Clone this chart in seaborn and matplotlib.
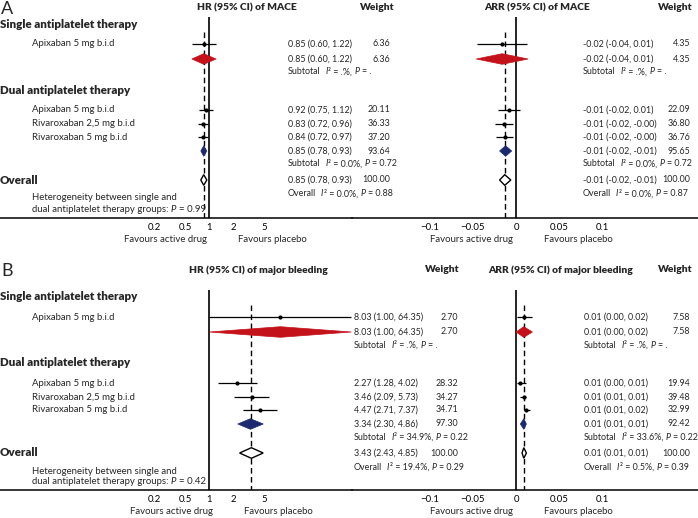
import matplotlib
matplotlib.use('Agg')
import matplotlib.pyplot as plt
from matplotlib.ticker import NullLocator, NullFormatter
import seaborn as sns

# ---- values ----
GROUP_NAMES = ['Single antiplatelet therapy', 'Dual antiplatelet therapy']
STUDY_NAMES = ['Apixaban 5 mg b.i.d', 'Apixaban 5 mg b.i.d',
               'Rivaroxaban 2,5 mg b.i.d', 'Rivaroxaban 5 mg b.i.d']
HET_P = ['0.99', '0.42']

# panel A, MACE: study rows (single, dual x3) and pooled rows (single sub, dual sub, overall)
mace_hr_est = [0.85, 0.92, 0.83, 0.84]
mace_hr_lo = [0.60, 0.75, 0.72, 0.72]
mace_hr_hi = [1.22, 1.12, 0.96, 0.97]
mace_hr_pool_est = [0.85, 0.85, 0.85]
mace_hr_pool_lo = [0.60, 0.78, 0.78]
mace_hr_pool_hi = [1.22, 0.93, 0.93]
mace_hr_txt = ['0.85 (0.60, 1.22)', '0.92 (0.75, 1.12)', '0.83 (0.72, 0.96)', '0.84 (0.72, 0.97)']
mace_hr_pool_txt = ['0.85 (0.60, 1.22)', '0.85 (0.78, 0.93)', '0.85 (0.78, 0.93)']
mace_hr_wt = ['6.36', '20.11', '36.33', '37.20']
mace_hr_pool_wt = ['6.36', '93.64', '100.00']
mace_hr_i2 = ['.%', '0.0%', '0.0%']
mace_hr_p = ['.', '0.72', '0.88']

mace_arr_est = [-0.016, -0.008, -0.014, -0.013]
mace_arr_lo = [-0.045, -0.021, -0.024, -0.023]
mace_arr_hi = [0.013, 0.005, -0.003, -0.004]
mace_arr_pool_est = [-0.016, -0.012, -0.013]
mace_arr_pool_lo = [-0.046, -0.019, -0.019]
mace_arr_pool_hi = [0.014, -0.005, -0.006]
mace_arr_txt = ['-0.02 (-0.04, 0.01)', '-0.01 (-0.02, 0.01)', '-0.01 (-0.02, -0.00)', '-0.01 (-0.02, -0.00)']
mace_arr_pool_txt = ['-0.02 (-0.04, 0.01)', '-0.01 (-0.02, -0.01)', '-0.01 (-0.02, -0.01)']
mace_arr_wt = ['4.35', '22.09', '36.80', '36.76']
mace_arr_pool_wt = ['4.35', '95.65', '100.00']
mace_arr_i2 = ['.%', '0.0%', '0.0%']
mace_arr_p = ['.', '0.72', '0.87']

# panel B, major bleeding
bleed_hr_est = [8.03, 2.27, 3.46, 4.47]
bleed_hr_lo = [1.00, 1.28, 2.09, 2.71]
bleed_hr_hi = [64.35, 4.02, 5.73, 7.37]
bleed_hr_pool_est = [8.03, 3.34, 3.43]
bleed_hr_pool_lo = [1.00, 2.30, 2.43]
bleed_hr_pool_hi = [64.35, 4.86, 4.85]
bleed_hr_txt = ['8.03 (1.00, 64.35)', '2.27 (1.28, 4.02)', '3.46 (2.09, 5.73)', '4.47 (2.71, 7.37)']
bleed_hr_pool_txt = ['8.03 (1.00, 64.35)', '3.34 (2.30, 4.86)', '3.43 (2.43, 4.85)']
bleed_hr_wt = ['2.70', '28.32', '34.27', '34.71']
bleed_hr_pool_wt = ['2.70', '97.30', '100.00']
bleed_hr_i2 = ['.%', '34.9%', '19.4%']
bleed_hr_p = ['.', '0.22', '0.29']

bleed_arr_est = [0.009, 0.005, 0.009, 0.012]
bleed_arr_lo = [0.001, 0.001, 0.005, 0.009]
bleed_arr_hi = [0.018, 0.012, 0.012, 0.016]
bleed_arr_pool_est = [0.009, 0.009, 0.009]
bleed_arr_pool_lo = [0.000, 0.005, 0.007]
bleed_arr_pool_hi = [0.019, 0.012, 0.012]
bleed_arr_txt = ['0.01 (0.00, 0.02)', '0.01 (0.00, 0.01)', '0.01 (0.01, 0.01)', '0.01 (0.01, 0.02)']
bleed_arr_pool_txt = ['0.01 (0.00, 0.02)', '0.01 (0.01, 0.01)', '0.01 (0.01, 0.01)']
bleed_arr_wt = ['7.58', '19.94', '39.48', '32.99']
bleed_arr_pool_wt = ['7.58', '92.42', '100.00']
bleed_arr_i2 = ['.%', '33.6%', '0.5%']
bleed_arr_p = ['.', '0.22', '0.39']

HR_TICKS = [0.2, 0.5, 1, 2, 5]
HR_TICKLABELS = ['0.2', '0.5', '1', '2', '5']
ARR_TICKS = [-0.1, -0.05, 0, 0.05, 0.1]
ARR_TICKLABELS = ['\u22120.1', '\u22120.05', '0', '0.05', '0.1']

# ---- layout (pixels from top-left, figure is 698 x 518) ----
W, H = 698, 518
STUDY_Y = [44, 110, 124, 137]
POOL_Y = [59, 151, 180]
HETROW_Y = [72, 164, 194]
GROUP_Y = [24, 90]
POOL_COLORS = ['#C4121A', '#1B2A6E', 'white']

sns.set_theme(style='white')
plt.rcParams['font.family'] = ['Lato', 'DejaVu Sans']

FS = 6.9      # labels
FN = 6.4      # numeric columns
FH = 7.4      # bold headers
fig = plt.figure(figsize=(W / 100, H / 100), dpi=100)
renderer = fig.canvas.get_renderer()


def ftext(x, y, s, **kw):
    kw.setdefault('fontsize', FS)
    kw.setdefault('va', 'center')
    return fig.text(x / W, 1 - y / H, s, **kw)


def rich(x, y, parts, fs):
    # parts: (text, style, gap in px before it); pieces are chained by their extents
    for s, st, gap in parts:
        t = ftext(x + gap, y, s, fontsize=fs, style=st)
        x = t.get_window_extent(renderer).x1


def stat_parts(label, i2, p):
    return [(label, 'normal', 0), ('I', 'italic', 4.5), ('\u00b2 = ' + i2 + ',', 'normal', 0.5),
            ('P', 'italic', 2.5), ('= ' + p, 'normal', 2.5)]


def add_ax(x0, y0, x1, y1):
    ax = fig.add_axes([x0 / W, 1 - y1 / H, (x1 - x0) / W, (y1 - y0) / H])
    ax.set_facecolor('none')
    ax.set_ylim(y1, y0)
    for side in ['top', 'left', 'right']:
        ax.spines[side].set_visible(False)
    ax.spines['bottom'].set_linewidth(1.1)
    ax.spines['bottom'].set_color('black')
    ax.set_yticks([])
    ax.tick_params(axis='x', length=0, pad=3.5, labelsize=FS, colors='black')
    return ax


def forest(ax, off, axis_y, null, est, lo, hi, pest, plo, phi):
    ax.vlines(null, 17 + off, axis_y, color='black', lw=1.2)
    ax.vlines(pest[-1], 32 + off, axis_y, color='black', lw=1.0, linestyles=(0, (4, 2.5)))
    ys = [y + off for y in STUDY_Y]
    ax.hlines(ys, lo, hi, color='black', lw=0.9)
    sns.scatterplot(x=est, y=ys, ax=ax, color='black', s=9, marker='o',
                    edgecolor='black', linewidth=0, legend=False, zorder=4)
    h = 5.3
    for e, l, u, y, c in zip(pest, plo, phi, POOL_Y, POOL_COLORS):
        y = y + off
        ec = 'black' if c == 'white' else c
        ax.fill([l, e, u, e], [y, y - h, y, y + h], facecolor=c, edgecolor=ec,
                lw=1.0 if c == 'white' else 0.5, zorder=3)


def columns(off, x_est, x_wt, txt, wt, ptxt, pwt, i2, p):
    for y, t, w in zip(STUDY_Y + POOL_Y, txt + ptxt, wt + pwt):
        ftext(x_est, y + off, t, fontsize=FN)
        ftext(x_wt, y + off, w, ha='right', fontsize=FN)
    for k, y in enumerate(HETROW_Y):
        lab = 'Overall' if k == 2 else 'Subtotal'
        rich(x_est, y + off, stat_parts(lab, i2[k], p[k]), FN)


def panel(off, letter, head_y, axis_y, titles, hr_title_x, wt1_x, arr_title_x,
          hr, arr, hr_cols, arr_cols, het_p, fav_hr_x):
    ftext(1, head_y + 1, letter, fontsize=13)
    ftext(hr_title_x, head_y, titles[0], ha='center', fontweight='heavy', fontsize=FH)
    ftext(wt1_x, head_y, 'Weight', ha='right', fontweight='heavy', fontsize=FH)
    ftext(arr_title_x, head_y, titles[1], ha='center', fontweight='heavy', fontsize=FH)
    ftext(693, head_y, 'Weight', ha='right', fontweight='heavy', fontsize=FH)
    for name, y in zip(GROUP_NAMES, GROUP_Y):
        ftext(0, y + off, name, fontweight='heavy', fontsize=8.3)
    ftext(0, POOL_Y[2] + off, 'Overall', fontweight='heavy', fontsize=8.3)
    for name, y in zip(STUDY_NAMES, STUDY_Y):
        ftext(32, y + off, name)
    ftext(32, 198 + off, 'Heterogeneity between single and')
    rich(32, 209 + off, [('dual antiplatelet therapy groups:', 'normal', 0), ('P', 'italic', 2.5),
                         ('= ' + het_p, 'normal', 2.5)], FS)

    ax_hr = add_ax(0, head_y + 4, 352, axis_y)
    ax_hr.set_xscale('log')
    ax_hr.set_xlim(0.00217, 65.5)
    forest(ax_hr, off, axis_y, 1, *hr)
    ax_hr.xaxis.set_minor_locator(NullLocator())
    ax_hr.xaxis.set_minor_formatter(NullFormatter())
    ax_hr.set_xticks(HR_TICKS)
    ax_hr.set_xticklabels(HR_TICKLABELS)

    ax_arr = add_ax(352, head_y + 4, W, axis_y)
    ax_arr.set_xlim(-0.1896, 0.2104)
    forest(ax_arr, off, axis_y, 0, *arr)
    ax_arr.set_xticks(ARR_TICKS)
    ax_arr.set_xticklabels(ARR_TICKLABELS)

    columns(off, *hr_cols)
    columns(off, *arr_cols)

    ftext(fav_hr_x[0], axis_y + 22, 'Favours active drug', ha='center')
    ftext(fav_hr_x[1], axis_y + 22, 'Favours placebo', ha='center')
    ftext(471, axis_y + 22, 'Favours active drug', ha='center')
    ftext(578, axis_y + 22, 'Favours placebo', ha='center')


panel(0, 'A', 8, 218, ('HR (95% CI) of MACE', 'ARR (95% CI) of MACE'), 247, 395, 537,
      (mace_hr_est, mace_hr_lo, mace_hr_hi, mace_hr_pool_est, mace_hr_pool_lo, mace_hr_pool_hi),
      (mace_arr_est, mace_arr_lo, mace_arr_hi, mace_arr_pool_est, mace_arr_pool_lo, mace_arr_pool_hi),
      (288, 390, mace_hr_txt, mace_hr_wt, mace_hr_pool_txt, mace_hr_pool_wt, mace_hr_i2, mace_hr_p),
      (583, 690, mace_arr_txt, mace_arr_wt, mace_arr_pool_txt, mace_arr_pool_wt, mace_arr_i2, mace_arr_p),
      HET_P[0], (166, 272))

panel(273, 'B', 270, 490, ('HR (95% CI) of major bleeding', 'ARR (95% CI) of major bleeding'), 258, 460, 561,
      (bleed_hr_est, bleed_hr_lo, bleed_hr_hi, bleed_hr_pool_est, bleed_hr_pool_lo, bleed_hr_pool_hi),
      (bleed_arr_est, bleed_arr_lo, bleed_arr_hi, bleed_arr_pool_est, bleed_arr_pool_lo, bleed_arr_pool_hi),
      (354, 458, bleed_hr_txt, bleed_hr_wt, bleed_hr_pool_txt, bleed_hr_pool_wt, bleed_hr_i2, bleed_hr_p),
      (584, 690, bleed_arr_txt, bleed_arr_wt, bleed_arr_pool_txt, bleed_arr_pool_wt, bleed_arr_i2, bleed_arr_p),
      HET_P[1], (171, 278))

fig.savefig('out.png', dpi=100)
